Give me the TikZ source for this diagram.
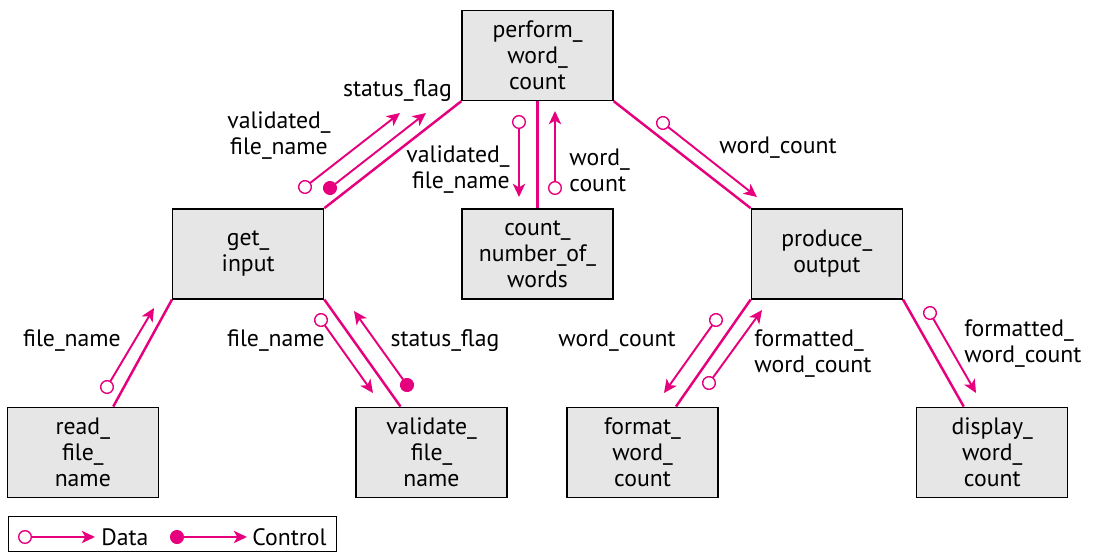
\documentclass[tikz,border=0pt]{standalone}
\usepackage{fontspec}
\setmainfont{PT Sans}
\usetikzlibrary{arrows.meta,positioning}
\definecolor{flowpink}{RGB}{230,0,126}
\definecolor{boxgray}{RGB}{230,230,230}

\begin{document}
\begin{tikzpicture}[x=0.02cm, y=-0.02cm, every node/.style={font=\fontsize{13.5}{14.8}\selectfont}]
\tikzset{module/.style={draw, fill=boxgray, line width=0.8pt, align=center, minimum width=3.02cm, minimum height=1.8cm, inner sep=2pt}}
\tikzset{link/.style={flowpink, line width=1.4pt}}
\tikzset{dataflow/.style={flowpink, line width=1.1pt, shorten <=-4pt, {Circle[open, length=8pt, line width'=0.8pt]}-{Stealth[length=7.5pt, width=7pt, inset=2pt]}}}
\tikzset{ctrlflow/.style={flowpink, line width=1.1pt, shorten <=-4pt, {Circle[length=8pt]}-{Stealth[length=7.5pt, width=7pt, inset=2pt]}}}
\tikzset{lbl/.style={align=center, inner sep=0pt}}
\useasboundingbox (0,0) rectangle (1100,552);
% modules
\node[module] (pwc) at (537.5,55.5) {perform\_\\word\_\\count};
\node[module, below=2.14cm of pwc] (cnw) {count\_\\number\_of\_\\words};
\node[module, left=2.74cm of cnw] (gin) {get\_\\input};
\node[module, right=2.74cm of cnw] (pout) {produce\_\\output};
\node[module, below left=2.14cm and 0.26cm of gin] (rfn) {read\_\\file\_\\name};
\node[module, below right=2.14cm and 0.62cm of gin] (vfn) {validate\_\\file\_\\name};
\node[module, below left=2.14cm and 0.64cm of pout] (fwc) {format\_\\word\_\\count};
\node[module, below right=2.14cm and 0.26cm of pout] (dwc) {display\_\\word\_\\count};
% calls
\draw[link] (pwc.south west) -- (gin.north east);
\draw[link] (pwc.south) -- (cnw.north);
\draw[link] (pwc.south east) -- (pout.north west);
\draw[link] (gin.south west) -- ([xshift=0.61cm]rfn.north);
\draw[link] (gin.south east) -- ([xshift=-0.62cm]vfn.north);
\draw[link] (pout.south west) -- ([xshift=0.67cm]fwc.north);
\draw[link] (pout.south east) -- ([xshift=-0.57cm]dwc.north);
% couples
\coordinate (vfA) at (305,187); \coordinate (vfB) at (400,113);
\coordinate (sfA) at (330,188); \coordinate (sfB) at (426,113);
\coordinate (vfC) at (519,122); \coordinate (vfD) at (519,197);
\coordinate (wcA) at (555,188); \coordinate (wcB) at (555,111);
\coordinate (wcC) at (663,123); \coordinate (wcD) at (757,197);
\coordinate (fnA) at (107,387); \coordinate (fnB) at (154,308);
\coordinate (fnC) at (321,320); \coordinate (fnD) at (373,393);
\coordinate (sfC) at (407,385); \coordinate (sfD) at (354,311);
\coordinate (wcE) at (716,320); \coordinate (wcF) at (664,393);
\coordinate (fwA) at (709,383); \coordinate (fwB) at (762,310);
\coordinate (fwC) at (930,313); \coordinate (fwD) at (976,393);
\draw[dataflow] (vfA) -- (vfB);
\draw[ctrlflow] (sfA) -- (sfB);
\draw[dataflow] (vfC) -- (vfD);
\draw[dataflow] (wcA) -- (wcB);
\draw[dataflow] (wcC) -- (wcD);
\draw[dataflow] (fnA) -- (fnB);
\draw[dataflow] (fnC) -- (fnD);
\draw[ctrlflow] (sfC) -- (sfD);
\draw[dataflow] (wcE) -- (wcF);
\draw[dataflow] (fwA) -- (fwB);
\draw[dataflow] (fwC) -- (fwD);
% couple names
\node[lbl] (sfT1) at (397.5,91) {status\_flag};
\node[lbl] (vfT1) at (279,136) {validated\_\\file\_name};
\node[lbl, align=right, anchor=east] (vfT2) at (510,170) {validated\_\\file\_name};
\node[lbl, align=left, anchor=west] (wcT1) at (569,170) {word\_\\count};
\node[lbl] (wcT2) at (778,148) {word\_count};
\node[lbl] (fnT1) at (72,341) {file\_name};
\node[lbl] (fnT2) at (276,341) {file\_name};
\node[lbl] (sfT2) at (445,341) {status\_flag};
\node[lbl] (wcT3) at (617,341) {word\_count};
\node[lbl, align=left, anchor=west] (fwT1) at (754,354) {formatted\_\\word\_count};
\node[lbl, align=left, anchor=west] (fwT2) at (964,344) {formatted\_\\word\_count};
% key
\node[draw, line width=0.8pt, minimum width=6.56cm, minimum height=0.7cm, anchor=north west] (key) at (8,516) {};
\coordinate (kdA) at (25,537); \coordinate (kdB) at (95,537);
\coordinate (kcA) at (177,537); \coordinate (kcB) at (247,537);
\draw[dataflow] (kdA) -- (kdB);
\draw[ctrlflow] (kcA) -- (kcB);
\node[lbl, anchor=west] (kdT) at (101,537) {Data};
\node[lbl, anchor=west] (kcT) at (252,537) {Control};
\end{tikzpicture}
\end{document}
